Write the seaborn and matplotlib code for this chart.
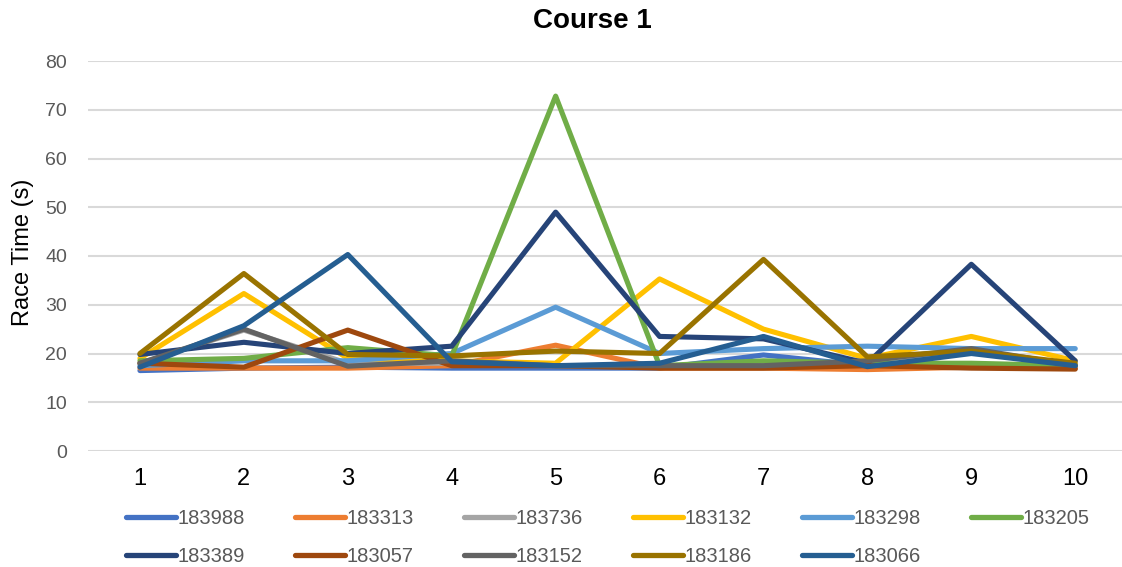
import matplotlib
matplotlib.use("Agg")
import matplotlib.pyplot as plt
import seaborn as sns
import pandas as pd

# Race number on the course
races = [1, 2, 3, 4, 5, 6, 7, 8, 9, 10]

# Race times (s) for each runner
r183988 = [16.5, 17.0, 17.2, 17.0, 17.0, 17.0, 19.7, 17.5, 17.3, 17.0]
r183313 = [17.0, 17.0, 17.0, 17.5, 21.7, 17.0, 17.0, 16.7, 17.2, 17.0]
r183736 = [18.0, 24.8, 18.0, 18.0, 17.5, 17.5, 17.5, 18.5, 20.5, 17.5]
r183132 = [19.0, 32.3, 19.0, 18.5, 18.0, 35.3, 25.0, 19.0, 23.5, 18.5]
r183298 = [17.5, 18.5, 18.5, 20.0, 29.5, 20.0, 21.0, 21.5, 21.0, 21.0]
r183205 = [18.5, 19.0, 21.2, 19.5, 72.8, 17.5, 18.5, 18.0, 18.0, 17.5]
r183389 = [19.8, 22.3, 20.0, 21.5, 49.0, 23.5, 23.0, 18.0, 38.3, 18.5]
r183057 = [18.0, 17.2, 24.8, 17.5, 17.5, 17.0, 17.0, 17.5, 17.0, 16.8]
r183152 = [18.0, 25.0, 17.4, 18.5, 17.5, 17.5, 17.5, 18.5, 21.0, 17.5]
r183186 = [20.0, 36.4, 19.8, 19.5, 20.5, 20.0, 39.3, 19.3, 20.5, 18.0]
r183066 = [17.2, 25.7, 40.3, 18.3, 17.5, 18.0, 23.5, 17.3, 20.0, 17.5]

runners = ["183988", "183313", "183736", "183132", "183298", "183205",
           "183389", "183057", "183152", "183186", "183066"]
series = [r183988, r183313, r183736, r183132, r183298, r183205,
          r183389, r183057, r183152, r183186, r183066]
colors = ["#4472C4", "#ED7D31", "#A5A5A5", "#FFC000", "#5B9BD5", "#70AD47",
          "#264478", "#9E480E", "#636363", "#997300", "#255E91"]

df = pd.DataFrame({
    "race": [r for _ in runners for r in races],
    "time": [v for s in series for v in s],
    "runner": [n for n in runners for _ in races],
})

sns.set_theme(style="white")
plt.rcParams["font.family"] = ["Liberation Sans", "DejaVu Sans"]

W, H = 1122, 567
fig = plt.figure(figsize=(W / 100, H / 100), dpi=100)
ax = fig.add_axes([88 / W, 1 - 451 / H, 1 - 88 / W, (451 - 61) / H])

sns.lineplot(data=df, x="race", y="time", hue="runner", hue_order=runners,
             palette=colors, linewidth=3.7, ax=ax, legend=False,
             solid_joinstyle="round", solid_capstyle="round")

ax.set_xlim(0.5, 10.45)
ax.set_ylim(0, 80)
ax.set_yticks(range(0, 81, 10))
ax.set_xticks(races)
ax.grid(axis="y", color="#D9D9D9", linewidth=1.5)
ax.set_axisbelow(True)
for sp in ax.spines.values():
    sp.set_visible(False)
ax.tick_params(axis="x", length=0, labelsize=17, labelcolor="black", pad=12)
ax.tick_params(axis="y", length=0, labelsize=14, labelcolor="#595959", pad=15)
ax.set_xlabel("")
ax.set_ylabel("Race Time (s)", fontsize=17, color="black")
ax.yaxis.set_label_coords(-54 / 1034, 0.509)

fig.text(592 / W, 1 - 21 / H, "Course 1", ha="center", va="center",
         fontsize=20, fontweight="bold", color="black")

# legend laid out row by row (matplotlib fills columns first)
order = [0, 6, 1, 7, 2, 8, 3, 9, 4, 10, 5]
handles = [plt.Line2D([0], [0], color=colors[i], linewidth=3.8,
                      solid_capstyle="round") for i in order]
labels = [runners[i] for i in order]
leg = fig.legend(handles, labels, ncol=6, loc="center left",
                 bbox_to_anchor=(126 / W, 1 - 537.5 / H), frameon=False,
                 fontsize=14.5, borderpad=0, borderaxespad=0,
                 handlelength=2.5, handletextpad=0.05, columnspacing=2.5,
                 labelspacing=0.95)
for t in leg.get_texts():
    t.set_color("#595959")

fig.savefig("out.png", dpi=100)
